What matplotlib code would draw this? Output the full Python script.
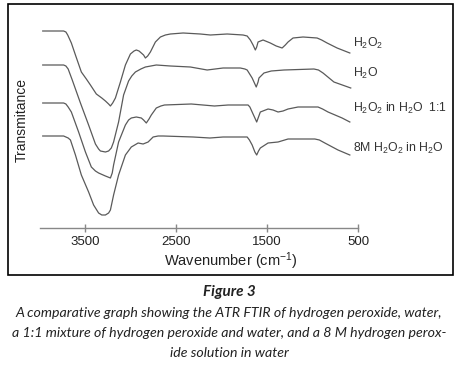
import matplotlib
matplotlib.use('Agg')
import matplotlib.pyplot as plt
from matplotlib.patches import Rectangle

plt.rcParams['font.family'] = ['Liberation Sans', 'DejaVu Sans']
plt.rcParams['mathtext.fontset'] = 'custom'
plt.rcParams['mathtext.rm'] = 'Liberation Sans'
plt.rcParams['mathtext.it'] = 'Liberation Sans'

# FTIR traces, wavenumber (cm-1) vs transmittance (a.u., offset per trace)
wn_h2o2 = [3970, 3740, 3715, 3695, 3675, 3655, 3610, 3545, 3490, 3445, 3380, 3320,
           3280, 3245, 3225, 3200, 3170, 3115, 3060, 3005, 2965, 2940, 2910, 2885,
           2860, 2840, 2815, 2785, 2730, 2675, 2620, 2565, 2425, 2235, 2125, 1940,
           1765, 1720, 1685, 1655, 1630, 1615, 1600, 1545, 1465, 1400, 1335, 1300,
           1270, 1215, 1105, 950, 900, 840, 730, 590]
t_h2o2 = [197, 197, 196, 193, 189, 185, 173, 156, 149, 143, 134, 130,
          127, 124, 122, 125, 130, 146, 163, 174, 177, 178, 177, 175,
          173, 170, 172, 176, 186, 191, 193, 194, 195, 194, 193, 194,
          193, 192, 188, 183, 178, 181, 186, 188, 185, 182, 180, 183,
          186, 190, 191, 190, 188, 185, 180, 175]

wn_h2o = [3970, 3740, 3715, 3690, 3645, 3555, 3465, 3390, 3355, 3335, 3280, 3245,
          3215, 3190, 3135, 3080, 3025, 2990, 2950, 2890, 2840, 2720, 2565, 2345,
          2160, 1985, 1795, 1745, 1720, 1665, 1635, 1620, 1600, 1590, 1535, 1455,
          1315, 985, 935, 885, 765, 580]
t_h2o = [163, 163, 162, 159, 148, 125, 103, 84, 79, 77, 76, 77,
         80, 86, 106, 133, 147, 152, 156, 159, 161, 163, 162, 161,
         158, 160, 160, 159, 158, 150, 144, 141, 146, 150, 155, 157,
         158, 159, 158, 155, 146, 140]

wn_mix = [3970, 3740, 3715, 3690, 3655, 3575, 3500, 3435, 3390, 3355, 3280, 3225,
          3205, 3190, 3135, 3060, 3025, 2995, 2940, 2885, 2860, 2830, 2800, 2775,
          2720, 2670, 2630, 2335, 2080, 1930, 1710, 1690, 1675, 1640, 1615, 1595,
          1575, 1490, 1435, 1380, 1325, 1270, 1160, 940, 890, 830, 675, 590]
t_mix = [125, 125, 124, 121, 116, 96, 76, 61, 57, 55, 52, 50,
         55, 63, 86, 103, 108, 110, 111, 110, 108, 105, 109, 113,
         120, 122, 123, 124, 122, 123, 123, 121, 118, 111, 106, 111,
         116, 119, 118, 116, 117, 119, 121, 121, 119, 116, 110, 106]

wn_8m = [3970, 3740, 3715, 3690, 3665, 3610, 3545, 3465, 3410, 3355, 3320, 3280,
         3245, 3225, 3190, 3135, 3060, 2995, 2920, 2865, 2810, 2755, 2700, 2645,
         2315, 2130, 1985, 1720, 1695, 1665, 1635, 1615, 1595, 1575, 1490, 1380,
         1270, 975, 925, 865, 720, 590]
t_8m = [92, 92, 91, 90, 88, 73, 53, 36, 23, 15, 13, 13,
        15, 18, 33, 53, 73, 81, 85, 84, 86, 91, 92, 92,
        91, 90, 91, 91, 88, 83, 76, 73, 77, 80, 85, 86,
        89, 89, 88, 85, 78, 73]

series = [(wn_h2o2, t_h2o2), (wn_h2o, t_h2o), (wn_mix, t_mix), (wn_8m, t_8m)]
labels = [r'H$_2$O$_2$', r'H$_2$O', r'H$_2$O$_2$ in H$_2$O  1:1', r'8M H$_2$O$_2$ in H$_2$O']
label_y = [185, 155, 120, 80]
xticks = [3500, 2500, 1500, 500]

W, H = 459, 368
fig = plt.figure(figsize=(W / 100, H / 100), dpi=100)
ax = fig.add_axes([40 / W, 1 - 228 / H, 318 / W, 208 / H])

for wn, t in series:
    ax.plot(wn, t, color='#5a5a5a', lw=0.9, solid_joinstyle='round')

for lab, y in zip(labels, label_y):
    ax.text(560, y, lab, fontsize=8.8, color='#333333', va='center', ha='left', clip_on=False)

ax.set_xlim(4000, 500)
ax.set_ylim(0, 208)
for s in ['left', 'top', 'right']:
    ax.spines[s].set_visible(False)
ax.spines['bottom'].set_color('#888888')
ax.spines['bottom'].set_linewidth(1.0)
ax.set_yticks([])
ax.set_xticks(xticks)
ax.set_xticklabels([str(v) for v in xticks])
ax.tick_params(axis='x', direction='inout', length=6, width=1, color='#888888',
               labelsize=9.5, labelcolor='#222222', pad=3)
ax.patch.set_alpha(0)

fig.text(231 / W, 1 - 261 / H, r'Wavenumber (cm$^{-1}$)', fontsize=10.5, color='#222222',
         ha='center', va='center')
fig.text(22 / W, 1 - 120 / H, 'Transmitance', fontsize=10, color='#222222',
         ha='center', va='center', rotation=90)

fig.patches.append(Rectangle((8 / W, 1 - 275 / H), 445 / W, 271 / H, transform=fig.transFigure,
                             fill=False, edgecolor='black', lw=1.2))

fig.text(229 / W, 1 - 292 / H, 'Figure 3', fontsize=11, fontweight='bold', style='italic',
         family='Lato', color='#222222', ha='center', va='center')
caption = ['A comparative graph showing the ATR FTIR of hydrogen peroxide, water,',
           'a 1:1 mixture of hydrogen peroxide and water, and a 8 M hydrogen perox-',
           'ide solution in water']
for i, line in enumerate(caption):
    fig.text(229 / W, 1 - (313 + 20 * i) / H, line, fontsize=10.2, style='italic',
             family='Lato', color='#222222', ha='center', va='center')

fig.savefig('out.png', dpi=100)
